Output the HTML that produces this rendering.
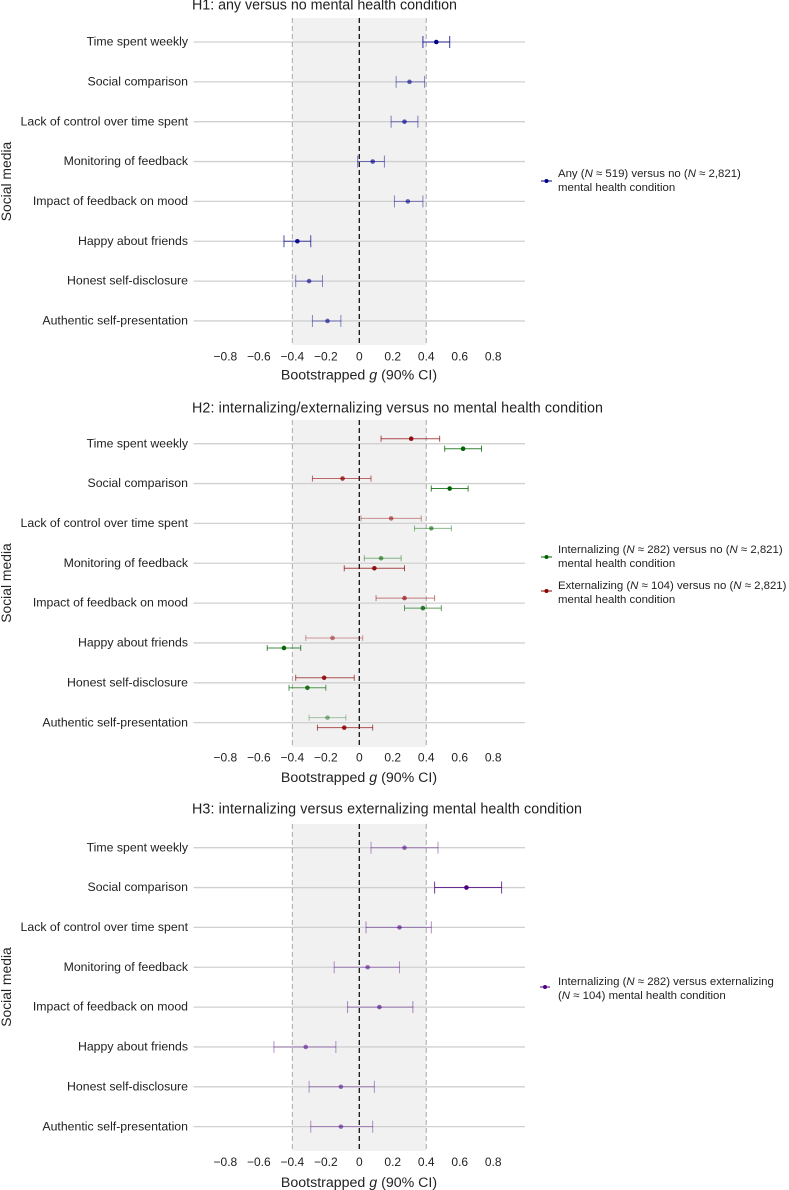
<!DOCTYPE html>
<html lang="en">
<head>
<meta charset="utf-8">
<title>Bootstrapped g by social media measure</title>
<style>
html,body{margin:0;padding:0;background:#fff;width:789px;height:1190px;overflow:hidden}
svg{display:block}
text{font-family:"Liberation Sans",sans-serif;fill:#222}
.title{font-size:14.3px}
.axis{font-size:14.2px}
.ytitle{font-size:13.9px}
.cat{font-size:12.3px;text-anchor:end}
.tick{font-size:12px;text-anchor:middle}
.leg{font-size:11.4px}
</style>
</head>
<body>
<svg id="chart" xmlns="http://www.w3.org/2000/svg" width="789" height="1190" viewBox="0 0 789 1190">
  <text class="title" x="192" y="9.5" textLength="265">H1: any versus no mental health condition</text>
  <text class="title" x="192" y="412.5" textLength="411">H2: internalizing/externalizing versus no mental health condition</text>
  <text class="title" x="192" y="813.5" textLength="390">H3: internalizing versus externalizing mental health condition</text>

  <text class="ytitle" transform="translate(11,181.5) rotate(-90)" text-anchor="middle">Social media</text>
  <text class="ytitle" transform="translate(11,583) rotate(-90)" text-anchor="middle">Social media</text>
  <text class="ytitle" transform="translate(11,987) rotate(-90)" text-anchor="middle">Social media</text>

  <text class="axis" x="359" y="379.5" text-anchor="middle">Bootstrapped <tspan font-style="italic">g</tspan> (90% CI)</text>
  <text class="axis" x="359" y="782" text-anchor="middle">Bootstrapped <tspan font-style="italic">g</tspan> (90% CI)</text>
  <text class="axis" x="359" y="1187" text-anchor="middle">Bootstrapped <tspan font-style="italic">g</tspan> (90% CI)</text>

  <g>
    <line x1="541" x2="552" y1="181" y2="181" stroke="#00008b" stroke-width="1"/>
    <circle cx="546.5" cy="181" r="2" fill="#00008b"/>
    <text class="leg" x="558" y="177">Any (<tspan font-style="italic">N</tspan> ≈ 519) versus no (<tspan font-style="italic">N</tspan> ≈ 2,821)</text>
    <text class="leg" x="558" y="191">mental health condition</text>
  </g>
  <g>
    <line x1="541" x2="552" y1="557" y2="557" stroke="#006400" stroke-width="1"/>
    <circle cx="546.5" cy="557" r="2" fill="#006400"/>
    <text class="leg" x="558" y="553">Internalizing (<tspan font-style="italic">N</tspan> ≈ 282) versus no (<tspan font-style="italic">N</tspan> ≈ 2,821)</text>
    <text class="leg" x="558" y="567">mental health condition</text>
  </g>
  <g>
    <line x1="541" x2="552" y1="591" y2="591" stroke="#8b0000" stroke-width="1"/>
    <circle cx="546.5" cy="591" r="2" fill="#8b0000"/>
    <text class="leg" x="558" y="589">Externalizing (<tspan font-style="italic">N</tspan> ≈ 104) versus no (<tspan font-style="italic">N</tspan> ≈ 2,821)</text>
    <text class="leg" x="558" y="603">mental health condition</text>
  </g>
  <g>
    <line x1="540" x2="550" y1="987" y2="987" stroke="#4b0082" stroke-width="1"/>
    <circle cx="545" cy="987" r="2" fill="#4b0082"/>
    <text class="leg" x="558" y="985">Internalizing (<tspan font-style="italic">N</tspan> ≈ 282) versus externalizing</text>
    <text class="leg" x="558" y="999">(<tspan font-style="italic">N</tspan> ≈ 104) mental health condition</text>
  </g>
</svg>
<script>
const categories = ["Time spent weekly","Social comparison","Lack of control over time spent","Monitoring of feedback","Impact of feedback on mood","Happy about friends","Honest self-disclosure","Authentic self-presentation"];
const xTicks = [-0.8,-0.6,-0.4,-0.2,0,0.2,0.4,0.6,0.8];
const xTickLabels = ["−0.8","−0.6","−0.4","−0.2","0","0.2","0.4","0.6","0.8"];
const equivalenceBounds = [-0.4,0.4];

const h1Means = [0.46,0.30,0.27,0.08,0.29,-0.37,-0.30,-0.19];
const h1Lower = [0.38,0.22,0.19,-0.01,0.21,-0.45,-0.38,-0.28];
const h1Upper = [0.54,0.39,0.35,0.15,0.38,-0.29,-0.22,-0.11];
const h1Evidence = [0.95,0.55,0.6,0.6,0.55,0.85,0.55,0.55];

const h2ExternalMeans = [0.31,-0.10,0.19,0.09,0.27,-0.16,-0.21,-0.09];
const h2ExternalLower = [0.13,-0.28,0.01,-0.09,0.10,-0.32,-0.38,-0.25];
const h2ExternalUpper = [0.48,0.07,0.37,0.27,0.45,0.02,-0.03,0.08];
const h2ExternalEvidence = [0.85,0.7,0.5,0.85,0.6,0.45,0.8,0.8];
const h2ExternalListedFirst = [true,true,true,false,true,true,true,false];

const h2InternalMeans = [0.62,0.54,0.43,0.13,0.38,-0.45,-0.31,-0.19];
const h2InternalLower = [0.51,0.43,0.33,0.03,0.27,-0.55,-0.42,-0.30];
const h2InternalUpper = [0.73,0.65,0.55,0.25,0.49,-0.35,-0.20,-0.08];
const h2InternalEvidence = [0.95,0.95,0.55,0.55,0.75,0.9,0.8,0.4];

const h3Means = [0.27,0.64,0.24,0.05,0.12,-0.32,-0.11,-0.11];
const h3Lower = [0.07,0.45,0.04,-0.15,-0.07,-0.51,-0.30,-0.29];
const h3Upper = [0.47,0.85,0.43,0.24,0.32,-0.14,0.09,0.08];
const h3Evidence = [0.5,0.95,0.55,0.5,0.55,0.5,0.5,0.5];

const NS = "http://www.w3.org/2000/svg";
const svg = document.getElementById("chart");

function xScale(v){ return 359.3 + v * 167.4; }
function yScale(i, firstRow){ return firstRow + i * 39.85; }

function mk(tag, attrs, parent){
  const el = document.createElementNS(NS, tag);
  for (const k in attrs) el.setAttribute(k, attrs[k]);
  parent.appendChild(el);
  return el;
}

function drawFrame(prefix, top, bottom, firstRow, tickY){
  const g = mk("g", {}, svg);
  
  

  const band = mk("rect", {x:xScale(equivalenceBounds[0]), y:top, width:xScale(equivalenceBounds[1])-xScale(equivalenceBounds[0]), height:bottom-top, fill:"#f1f1f1"}, g);
  
  

  categories.forEach(function(c, i){
    const y = yScale(i, firstRow);
    const row = mk("line", {x1:193.5, x2:525, y1:y, y2:y, stroke:"#d0d0d0", "stroke-width":1.3}, g);
    
    
    const t = mk("text", {x:188, y:y+3.6, class:"cat"}, g);
    t.textContent = c;
    
    
  });

  equivalenceBounds.forEach(function(b){
    const l = mk("line", {x1:xScale(b), x2:xScale(b), y1:top, y2:bottom, stroke:"#a8a8a8", "stroke-width":1, "stroke-dasharray":"5 3"}, g);
    
    
  });

  const zero = mk("line", {x1:xScale(0), x2:xScale(0), y1:top, y2:bottom, stroke:"#111", "stroke-width":1.3, "stroke-dasharray":"5 3"}, g);
  
  

  xTicks.forEach(function(v, i){
    const t = mk("text", {x:xScale(v), y:tickY, class:"tick"}, g);
    t.textContent = xTickLabels[i];
    
    
  });
}

function drawSeries(prefix, means, lower, upper, evidence, color, firstRow, offsetFor, capHalf){
  means.forEach(function(m, i){
    const y = yScale(i, firstRow) + offsetFor(i);
    const lineOpacity = evidence[i] * 0.82;
    const pointOpacity = Math.min(1, evidence[i] * 1.08);
    const g = mk("g", {}, svg);
    
    

    const bar = mk("line", {x1:xScale(lower[i]), x2:xScale(upper[i]), y1:y, y2:y, stroke:color, "stroke-width":1, opacity:lineOpacity}, g);
    
    

    const capL = mk("line", {x1:xScale(lower[i]), x2:xScale(lower[i]), y1:y-capHalf, y2:y+capHalf, stroke:color, "stroke-width":1, opacity:lineOpacity}, g);
    
    

    const capU = mk("line", {x1:xScale(upper[i]), x2:xScale(upper[i]), y1:y-capHalf, y2:y+capHalf, stroke:color, "stroke-width":1, opacity:lineOpacity}, g);
    
    

    const pt = mk("circle", {cx:xScale(m), cy:y, r:2.3, fill:color, opacity:pointOpacity}, g);
    
    
  });
}

drawFrame("h1", 18, 345, 42, 360.5);
drawSeries("h1", h1Means, h1Lower, h1Upper, h1Evidence, "#00008b", 42, function(){ return 0; }, 6);

drawFrame("h2", 420, 747, 443.7, 761.5);
drawSeries("h2-externalizing", h2ExternalMeans, h2ExternalLower, h2ExternalUpper, h2ExternalEvidence, "#8b0000", 443.7, function(i){ return h2ExternalListedFirst[i] ? -5 : 5; }, 3);
drawSeries("h2-internalizing", h2InternalMeans, h2InternalLower, h2InternalUpper, h2InternalEvidence, "#006400", 443.7, function(i){ return h2ExternalListedFirst[i] ? 5 : -5; }, 3);

drawFrame("h3", 824, 1151, 847.7, 1166);
drawSeries("h3", h3Means, h3Lower, h3Upper, h3Evidence, "#4b0082", 847.7, function(){ return 0; }, 6);
</script>
</body>
</html>
